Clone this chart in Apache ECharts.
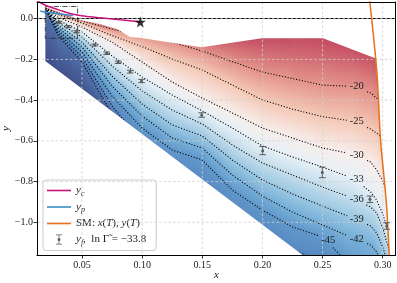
<!DOCTYPE html>
<html><head><meta charset="utf-8">
<script src="https://cdn.jsdelivr.net/npm/echarts@6/dist/echarts.min.js"></script>
<style>html,body{margin:0;padding:0;background:#fff}#c{width:397px;height:283px}</style>
</head><body><div id="c"></div>
<script>
// ---------- axes ----------
const xMin = 0.0126, xMax = 0.3108, yMin = -1.1606, yMax = 0.082;
const xTicks = [0.05, 0.10, 0.15, 0.20, 0.25, 0.30];
const yTicks = [-1.0, -0.8, -0.6, -0.4, -0.2, 0.0];

// ---------- contour field (ln Gamma), sampled on columns ----------
const colX = [0.0195, 0.03, 0.05, 0.075, 0.10, 0.125, 0.15, 0.175, 0.20, 0.225, 0.25, 0.275, 0.29, 0.295, 0.30, 0.31, 0.33];
const guideTop = [0.062, 0.048, 0.018, -0.016, -0.031, -0.041, -0.056, -0.080, -0.085, -0.085, -0.085, -0.134, -0.169, -0.193, -0.213, -0.262, -0.424];
const c20 = [0.050, 0.030, -0.011, -0.051, -0.085, -0.115, -0.159, -0.211, -0.262, -0.294, -0.326, -0.333, -0.365, -0.390, -0.429, -0.522, -0.743];
const c25 = [0.050, 0.021, -0.021, -0.083, -0.137, -0.198, -0.252, -0.326, -0.399, -0.444, -0.481, -0.503, -0.542, -0.562, -0.586, -0.694, -0.940];
const c30 = [0.050, 0.008, -0.041, -0.115, -0.213, -0.311, -0.390, -0.463, -0.537, -0.586, -0.635, -0.665, -0.704, -0.743, -0.797, -0.964, -1.284];
const c33 = [0.050, -0.006, -0.065, -0.183, -0.286, -0.375, -0.453, -0.537, -0.625, -0.679, -0.729, -0.783, -0.851, -0.891, -0.959, -1.136, -1.480];
const c36 = [0.050, -0.019, -0.090, -0.232, -0.355, -0.449, -0.517, -0.620, -0.709, -0.768, -0.827, -0.881, -0.925, -0.955, -1.028, -1.234, -1.578];
const c39 = [0.050, -0.031, -0.115, -0.282, -0.419, -0.522, -0.576, -0.694, -0.792, -0.861, -0.920, -0.979, -1.018, -1.053, -1.122, -1.308, -1.677];
const c42 = [0.050, -0.043, -0.139, -0.331, -0.478, -0.586, -0.635, -0.768, -0.871, -0.950, -1.013, -1.077, -1.112, -1.146, -1.210, -1.382, -1.775];
const c45 = [0.050, -0.056, -0.164, -0.380, -0.537, -0.645, -0.694, -0.842, -0.940, -1.023, -1.072, -1.225, -1.308, -1.343, -1.377, -1.480, -1.873];
const c48 = [0.050, -0.068, -0.188, -0.429, -0.606, -0.743, -0.817, -0.940, -1.048, -1.136, -1.195, -1.308, -1.406, -1.441, -1.480, -1.578, -1.971];
const c51 = [0.050, -0.080, -0.213, -0.468, -0.655, -0.792, -0.876, -0.999, -1.112, -1.195, -1.259, -1.367, -1.470, -1.505, -1.539, -1.637, -2.070];
const guideBottom = [-0.277, -0.326, -0.399, -0.547, -0.719, -0.866, -0.964, -1.087, -1.195, -1.284, -1.357, -1.456, -1.554, -1.603, -1.637, -1.726, -2.168];
const contourLevels = [-20, -25, -30, -33, -36, -39, -42, -45, -48, -51];
const fillLevels = [-13, -20, -25, -30, -33, -36, -39, -42, -45, -48, -51, -62];
const fillColors = ['#c24a60', '#e3938a', '#f5c8b6', '#f7eeec', '#e6f0f6', '#c3ddec', '#9bc7e2', '#76aed7', '#6098cb', '#5787bf', '#4f6fa9', '#3b4680'];

// contour labels
const labelLevels = [-20, -25, -30, -33, -36, -39, -42, -45];
const labelX = [0.2784, 0.2784, 0.2784, 0.2784, 0.2784, 0.2784, 0.2784, 0.2548];
const labelY = [-0.334, -0.506, -0.670, -0.789, -0.887, -0.985, -1.084, -1.087];

// domain of the field
const domainX = [0.0195, 0.0483, 0.0650, 0.0691, 0.0733, 0.0791, 0.0899, 0.0999, 0.1148, 0.1495, 0.1994, 0.2504, 0.2938, 0.2950, 0.2982, 0.3013, 0.3033, 0.3047, 0.3055, 0.3061, 0.2500, 0.0195];
const domainY = [0.0574, -0.0064, -0.0261, -0.0334, -0.0408, -0.0507, -0.0899, -0.0949, -0.1096, -0.1405, -0.0963, -0.0963, -0.1946, -0.2520, -0.5959, -0.7924, -0.9250, -1.0724, -1.1608, -1.2345, -1.2345, -0.2078];

// ---------- curves ----------
const ycX = [0.0118, 0.0192, 0.0265, 0.0334, 0.0400, 0.0483, 0.0566, 0.0650, 0.0733, 0.0816, 0.0899, 0.0985];
const ycY = [0.0918, 0.0672, 0.0510, 0.0378, 0.0255, 0.0157, 0.0093, 0.0044, -0.0005, -0.0055, -0.0104, -0.0163];
const ypX = [0.0153, 0.0192, 0.0276, 0.0359, 0.0425];
const ypY = [0.0378, 0.0329, 0.0265, 0.0206, 0.0162];
const smX = [0.2880, 0.2950, 0.2982, 0.3013, 0.3033, 0.3047, 0.3061];
const smY = [0.150, -0.252, -0.596, -0.792, -0.925, -1.072, -1.234];
const starX = [0.0985], starY = [-0.0163];
const yfX = [0.031, 0.0385, 0.0455, 0.0605, 0.0705, 0.080, 0.090, 0.0995, 0.1495, 0.2002, 0.2498, 0.2894, 0.3033];
const yfY = [-0.018, -0.039, -0.064, -0.129, -0.170, -0.214, -0.260, -0.306, -0.473, -0.648, -0.755, -0.887, -1.018];
const yfErr = [0.005, 0.005, 0.005, 0.005, 0.006, 0.006, 0.007, 0.008, 0.011, 0.020, 0.026, 0.016, 0.016];
const boxX = [0.0195, 0.0464], boxY = [-0.096, 0.060];

// ---------- rendering ----------
const contourLines = [c20, c25, c30, c33, c36, c39, c42, c45, c48, c51];
const fillLines = [guideTop].concat(contourLines, [guideBottom]);
const SERIF = '"Liberation Serif", "DejaVu Serif", serif';

function nrm(v) { const l = Math.hypot(v[0], v[1]); return l > 1e-9 ? [v[0] / l, v[1] / l] : [0, 0]; }

function renderFill(params, api) {
  const lines = fillLines.map(ys => ys.map((y, i) => api.coord([colX[i], y])));
  const ch = [];
  for (let k = 0; k < lines.length - 1; k++) {
    const A = lines[k], B = lines[k + 1];
    for (let j = 0; j < colX.length - 1; j++) {
      const a0 = A[j], a1 = A[j + 1], b0 = B[j], b1 = B[j + 1];
      const pA = [(a0[0] + a1[0]) / 2, (a0[1] + a1[1]) / 2];
      const pB = [(b0[0] + b1[0]) / 2, (b0[1] + b1[1]) / 2];
      const da = nrm([a1[0] - a0[0], a1[1] - a0[1]]), db = nrm([b1[0] - b0[0], b1[1] - b0[1]]);
      const d = nrm([da[0] + db[0], da[1] + db[1]]);
      const v = [pB[0] - pA[0], pB[1] - pA[1]];
      const dot = v[0] * d[0] + v[1] * d[1];
      let vp = [v[0] - dot * d[0], v[1] - dot * d[1]];
      if (Math.hypot(vp[0], vp[1]) < 0.5) vp = v;
      if (Math.hypot(vp[0], vp[1]) < 0.5) vp = [0, 1];
      const g = new echarts.graphic.LinearGradient(pA[0], pA[1], pA[0] + vp[0], pA[1] + vp[1],
        [{ offset: 0, color: fillColors[k] }, { offset: 1, color: fillColors[k + 1] }], true);
      ch.push({ type: 'polygon', shape: { points: [a0, a1, b1, b0] }, style: { fill: g, stroke: g, lineWidth: 0.8 } });
    }
  }
  return { type: 'group', children: ch };
}

function renderContours(params, api) {
  const ch = [];
  contourLines.forEach((ys, k) => {
    const lvl = contourLevels[k];
    const pts = ys.map((y, i) => api.coord([colX[i], y]));
    const labs = [];
    labelLevels.forEach((l, j) => { if (l === lvl) labs.push(api.coord([labelX[j], labelY[j]])); });
    const segs = []; let cur = [];
    for (let i = 0; i < pts.length - 1; i++) {
      const a = pts[i], b = pts[i + 1];
      const n = Math.max(1, Math.ceil(Math.hypot(b[0] - a[0], b[1] - a[1])));
      for (let t = 0; t < n; t++) {
        const p = [a[0] + (b[0] - a[0]) * t / n, a[1] + (b[1] - a[1]) * t / n];
        const inside = labs.some(c => Math.abs(p[0] - c[0]) < 9.5 && Math.abs(p[1] - c[1]) < 7);
        if (inside) { if (cur.length > 1) segs.push(cur); cur = []; } else cur.push(p);
      }
    }
    cur.push(pts[pts.length - 1]);
    if (cur.length > 1) segs.push(cur);
    segs.forEach(s => ch.push({ type: 'polyline', shape: { points: s }, style: { stroke: '#000', fill: null, lineWidth: 1.1, lineDash: [1.1, 1.8] } }));
  });
  return { type: 'group', children: ch };
}

function renderMask(params, api) {
  const outer = [[-0.2, 0.6], [0.6, 0.6], [0.6, -3], [-0.2, -3]].map(p => api.coord(p));
  const hole = domainX.map((x, i) => api.coord([x, domainY[i]])).reverse();
  const pts = outer.concat([outer[0], hole[0]], hole.slice(1), [hole[0], outer[0]]);
  return { type: 'polygon', shape: { points: pts }, style: { fill: '#ffffff' } };
}

function renderLabels(params, api) {
  return {
    type: 'group', children: labelLevels.map((l, j) => {
      const p = api.coord([labelX[j], labelY[j]]);
      return { type: 'text', x: p[0], y: p[1], style: { text: String(l), fill: '#222', font: '10.5px ' + SERIF, align: 'center', verticalAlign: 'middle', textAlign: 'center', textVerticalAlign: 'middle' } };
    })
  };
}

function renderGrid(params, api) {
  const ch = [], st = { stroke: '#cfcfcf', lineWidth: 0.8, lineDash: [2.5, 2.2] };
  xTicks.forEach(x => { const a = api.coord([x, yMax]), b = api.coord([x, yMin]); ch.push({ type: 'line', shape: { x1: a[0], y1: a[1], x2: b[0], y2: b[1] }, style: st }); });
  yTicks.forEach(y => { const a = api.coord([xMin, y]), b = api.coord([xMax, y]); ch.push({ type: 'line', shape: { x1: a[0], y1: a[1], x2: b[0], y2: b[1] }, style: st }); });
  return { type: 'group', children: ch };
}

function renderErr(params, api) {
  const x = api.value(0), y = api.value(1), e = api.value(2);
  const p = api.coord([x, y]), t = api.coord([x, y + e]), b = api.coord([x, y - e]);
  const w = 3.3, col = '#5c5c5c';
  return {
    type: 'group', children: [
      { type: 'line', shape: { x1: t[0], y1: t[1], x2: b[0], y2: b[1] }, style: { stroke: col, lineWidth: 1 } },
      { type: 'line', shape: { x1: t[0] - w, y1: t[1], x2: t[0] + w, y2: t[1] }, style: { stroke: col, lineWidth: 1 } },
      { type: 'line', shape: { x1: b[0] - w, y1: b[1], x2: b[0] + w, y2: b[1] }, style: { stroke: col, lineWidth: 1 } },
      { type: 'circle', shape: { cx: p[0], cy: p[1], r: 1.5 }, style: { fill: col } }
    ]
  };
}

const zip = (xs, ys) => xs.map((x, i) => [x, ys[i]]);
const legendText = {
  yc: '{i|y}{s|c}',
  yp: '{i|y}{s|p}',
  sm: 'SM: {i|x}({i|T}), {i|y}({i|T})',
  yf: '{i|y}{s|f}{n|,  ln \u0393\u0303 = \u221233.8}'
};
const one = [[0.1, -0.5]];
const LINE_ICON = 'path://M0,0M0,4.2H24V5.8H0ZM24,10';
const ERR_ICON = 'path://M3,0H9V0.8H6.4V9.2H9V10H3V9.2H5.6V0.8H3Z M7.5,5A1.5,1.5 0 1,1 4.5,5A1.5,1.5 0 1,1 7.5,5Z';

const chart = echarts.init(document.getElementById('c'), null, { renderer: 'canvas' });
chart.setOption({
  animation: false,
  backgroundColor: '#ffffff',
  grid: { left: 37, right: 1.3, top: 2, bottom: 28, containLabel: false, outerBoundsMode: 'none' },
  xAxis: [{
    type: 'value', min: xMin, max: xMax, position: 'bottom', z: 11,
    axisLine: { show: true, onZero: false, lineStyle: { color: '#000', width: 1 } },
    axisTick: { show: true, inside: false, length: 3.5, lineStyle: { color: '#000', width: 0.8 }, customValues: xTicks },
    axisLabel: { show: true, margin: 5, customValues: xTicks, formatter: v => v.toFixed(2), color: '#222', fontFamily: SERIF, fontSize: 10 },
    splitLine: { show: false },
    name: 'x', nameLocation: 'middle', nameGap: 15, nameMoveOverlap: false,
    nameTextStyle: { fontFamily: SERIF, fontStyle: 'italic', fontSize: 11, color: '#222' }
  }, {
    type: 'value', min: xMin, max: xMax, position: 'top', z: 11,
    axisLine: { show: true, onZero: false, lineStyle: { color: '#000', width: 1 } },
    axisTick: { show: false }, axisLabel: { show: false }, splitLine: { show: false }
  }],
  yAxis: [{
    type: 'value', min: yMin, max: yMax, position: 'left', z: 11,
    axisLine: { show: true, onZero: false, lineStyle: { color: '#000', width: 1 } },
    axisTick: { show: true, inside: false, length: 3.5, lineStyle: { color: '#000', width: 0.8 }, customValues: yTicks },
    axisLabel: { show: true, margin: 4, customValues: yTicks, formatter: v => v.toFixed(1).replace('-', '\u2212'), color: '#222', fontFamily: SERIF, fontSize: 10 },
    splitLine: { show: false },
    name: 'y', nameLocation: 'middle', nameGap: 25, nameRotate: 90, nameMoveOverlap: false,
    nameTextStyle: { fontFamily: SERIF, fontStyle: 'italic', fontSize: 11, color: '#222' }
  }, {
    type: 'value', min: yMin, max: yMax, position: 'right', z: 11,
    axisLine: { show: true, onZero: false, lineStyle: { color: '#000', width: 1 } },
    axisTick: { show: false }, axisLabel: { show: false }, splitLine: { show: false }
  }],
  legend: {
    orient: 'vertical', left: 43, top: 180, padding: [4, 10, 4, 4], itemGap: 3,
    itemWidth: 24, itemHeight: 10,
    backgroundColor: 'rgba(255,255,255,0.85)', borderColor: '#cccccc', borderWidth: 1, borderRadius: 3,
    data: [{ name: 'yc', icon: LINE_ICON }, { name: 'yp', icon: LINE_ICON }, { name: 'sm', icon: LINE_ICON },
      { name: 'yf', icon: ERR_ICON }],
    formatter: n => legendText[n],
    textStyle: {
      fontFamily: SERIF, fontSize: 11, color: '#222', lineHeight: 13,
      rich: {
        i: { fontFamily: SERIF, fontSize: 11, fontStyle: 'italic', color: '#222' },
        n: { fontFamily: SERIF, fontSize: 11, color: '#222' },
        s: { fontFamily: SERIF, fontSize: 8, fontStyle: 'italic', color: '#222', padding: [6, 0, 0, 0] }
      }
    }
  },
  series: [
    { type: 'custom', name: 'fill', renderItem: renderFill, data: one, clip: true, z: 1, silent: true },
    { type: 'custom', name: 'contours', renderItem: renderContours, data: one, clip: true, z: 2, silent: true },
    { type: 'custom', name: 'mask', renderItem: renderMask, data: one, clip: true, z: 3, silent: true },
    { type: 'custom', name: 'labels', renderItem: renderLabels, data: one, clip: true, z: 4, silent: true },
    { type: 'custom', name: 'gridlines', renderItem: renderGrid, data: one, clip: true, z: 5, silent: true },
    { type: 'line', name: 'box', data: [[boxX[0], boxY[1]], [boxX[1], boxY[1]], [boxX[1], boxY[0]], [boxX[0], boxY[0]], [boxX[0], boxY[1]]],
      showSymbol: false, symbol: 'none', z: 6, silent: true,
      lineStyle: { color: '#222', width: 0.8, type: [5, 1.4, 0.8, 1.4] } },
    { type: 'line', name: 'yp', data: zip(ypX, ypY), showSymbol: false, symbol: 'none', smooth: 0.3, z: 7,
      itemStyle: { color: '#3a8fc6' }, lineStyle: { color: '#3a8fc6', width: 1.5 } },
    { type: 'line', name: 'yc', data: zip(ycX, ycY), showSymbol: false, symbol: 'none', smooth: 0.3, z: 8,
      itemStyle: { color: '#c8157a' }, lineStyle: { color: '#c8157a', width: 1.5 },
      markLine: { silent: true, symbol: ['none', 'none'], label: { show: false }, lineStyle: { color: '#000', width: 1, type: 'solid' }, data: [{ yAxis: 0 }] } },
    { type: 'line', name: 'sm', data: zip(smX, smY), showSymbol: false, symbol: 'none', smooth: 0.3, z: 8,
      itemStyle: { color: '#e8701a' }, lineStyle: { color: '#e8701a', width: 1.5 } },
    { type: 'custom', name: 'yf', renderItem: renderErr, data: yfX.map((x, i) => [x, yfY[i], yfErr[i]]),
      encode: { x: 0, y: 1 }, clip: true, z: 9, itemStyle: { color: '#5c5c5c' } },
    { type: 'scatter', name: 'star', data: zip(starX, starY), z: 10, symbolSize: 11,
      symbol: 'path://M12,1 L14.9,9.3 L23.6,9.3 L16.6,14.5 L19.2,22.8 L12,17.7 L4.8,22.8 L7.4,14.5 L0.4,9.3 L9.1,9.3Z',
      itemStyle: { color: '#000' } }
  ]
});
</script></body></html>
